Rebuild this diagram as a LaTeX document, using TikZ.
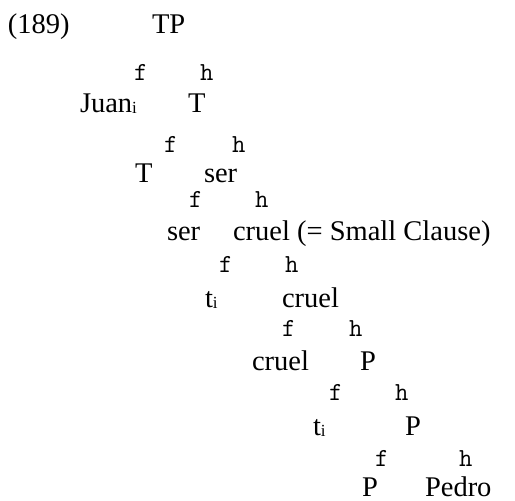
\documentclass[tikz,border=0pt]{standalone}
\usepackage{fontspec}
\setmainfont{Liberation Serif}
\tikzset{
  lab/.style={anchor=base west, inner sep=0pt, outer sep=0pt, font=\fontsize{28.5}{30}\selectfont},
  br/.style={anchor=base west, inner sep=0pt, outer sep=0pt, font=\ttfamily\fontsize{26}{28}\selectfont},
}
\newcommand{\sbi}{\raisebox{-1pt}{\fontsize{17}{18}\selectfont i}}
\begin{document}
\begin{tikzpicture}[x=1pt,y=1pt]
\useasboundingbox (0,0) rectangle (515,-501);
\node[lab] (num) at (8,-33) {(189)};
\node[lab] (tp) at (152,-33) {TP};
\node[br] (f1) at (134,-80) {f};
\node[br] (h1) at (200,-80) {h};
\node[lab] (juan) at (80,-112) {Juan\sbi};
\node[lab] (t1) at (188,-112) {T};
\node[br] (f2) at (164,-152) {f};
\node[br] (h2) at (232,-152) {h};
\node[lab] (t2) at (135,-182) {T};
\node[lab] (ser1) at (204,-182) {ser};
\node[br] (f3) at (189,-207) {f};
\node[br] (h3) at (255,-207) {h};
\node[lab] (ser2) at (167,-240) {ser};
\node[lab] (cruel1) at (233,-240) {cruel (= Small Clause)};
\node[br] (f4) at (219,-272) {f};
\node[br] (h4) at (285,-272) {h};
\node[lab] (ti1) at (205,-307) {t\sbi};
\node[lab] (cruel2) at (282,-307) {cruel};
\node[br] (f5) at (282,-336) {f};
\node[br] (h5) at (349,-336) {h};
\node[lab] (cruel3) at (252,-370) {cruel};
\node[lab] (p1) at (360,-370) {P};
\node[br] (f6) at (329,-400) {f};
\node[br] (h6) at (395,-400) {h};
\node[lab] (ti2) at (313,-435) {t\sbi};
\node[lab] (p2) at (405,-435) {P};
\node[br] (f7) at (375,-466) {f};
\node[br] (h7) at (459,-466) {h};
\node[lab] (p3) at (362,-496) {P};
\node[lab] (pedro) at (425,-496) {Pedro};
\end{tikzpicture}
\end{document}
